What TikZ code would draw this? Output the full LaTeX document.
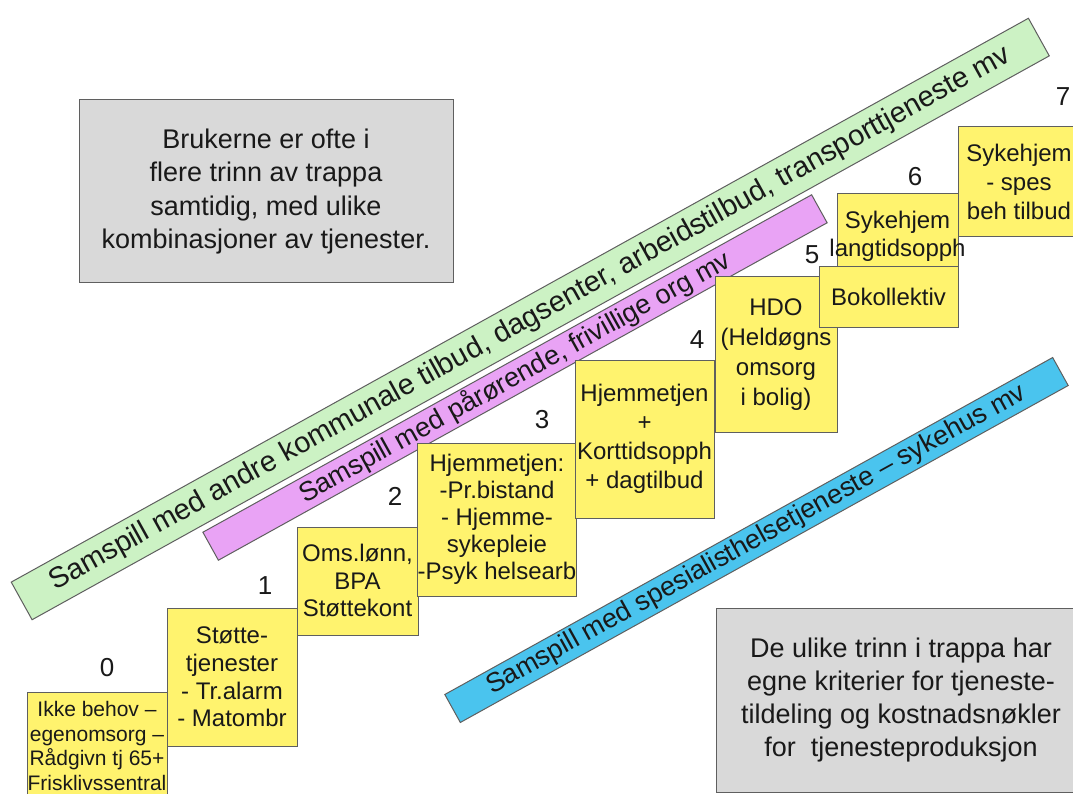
\documentclass[tikz,border=0pt]{standalone}
\usepackage{fontspec}
\setmainfont{Liberation Sans}
\definecolor{boxyellow}{RGB}{255,243,110}
\definecolor{boxgray}{RGB}{217,217,217}
\definecolor{edgegray}{RGB}{95,95,95}
\definecolor{bandgreen}{RGB}{204,242,196}
\definecolor{bandpurple}{RGB}{233,163,245}
\definecolor{bandblue}{RGB}{74,196,238}
\definecolor{txt}{RGB}{25,25,25}
\begin{document}
\begin{tikzpicture}[x=1pt,y=-1pt,
  ybox/.style={draw=edgegray, fill=boxyellow, line width=1pt, inner sep=0pt,
    align=center, text=txt, font=\fontsize{24}{27}\selectfont},
  ytext/.style={inner sep=0pt, align=center, text=txt},
  gbox/.style={draw=edgegray, fill=boxgray, line width=1pt, inner sep=0pt,
    align=center, text=txt, font=\fontsize{27}{33.3}\selectfont},
  band/.style={draw=edgegray, line width=1pt, inner sep=0pt, rotate=29,
    text=txt, font=\fontsize{27}{30}\selectfont},
  stepnum/.style={inner sep=0pt, text=txt, font=\fontsize{26}{28}\selectfont}]
\useasboundingbox (0,0) rectangle (1073,794);
\fill[white] (0,0) rectangle (1073,794);

% info boxes
\node[gbox, minimum width=374pt, minimum height=183pt] (info1) at (266,191.5)
  {Brukerne er ofte i\\flere trinn av trappa\\samtidig, med ulike\\kombinasjoner av tjenester.};
\node[gbox, minimum width=370pt, minimum height=184pt] (info2) at (901,700)
  {De ulike trinn i trappa har\\egne kriterier for tjeneste-\\tildeling og kostnadsnøkler\\for\ \ tjenesteproduksjon};

% bands
\node[band, fill=bandgreen, minimum width=1163pt, minimum height=43pt, font=\fontsize{29}{31}\selectfont] (green) at (530.25,319)
  {Samspill med andre kommunale tilbud, dagsenter, arbeidstilbud, transporttjeneste mv};
\node[band, fill=bandpurple, minimum width=696pt, minimum height=32pt] (purple) at (515,377.5)
  {Samspill med pårørende, frivillige org mv};
\node[band, fill=bandblue, minimum width=695pt, minimum height=32pt] (blue) at (756.5,540)
  {Samspill med spesialisthelsetjeneste – sykehus mv};

% steps
\node[ybox, minimum width=140pt, minimum height=108pt, font=\fontsize{21}{24.7}\selectfont] (b0) at (97,746)
  {Ikke behov –\\egenomsorg –\\Rådgivn tj 65+\\Frisklivssentral};
\node[ybox, minimum width=130pt, minimum height=138pt, font=\fontsize{24}{27.7}\selectfont] (b1) at (232,677)
  {Støtte-\\tjenester\\- Tr.alarm\\- Matombr};
\node[ybox, minimum width=121pt, minimum height=108pt, font=\fontsize{24}{27.5}\selectfont] (b2) at (357.5,581)
  {Oms.lønn,\\BPA\\Støttekont};
\node[ybox, minimum width=156pt, minimum height=153pt] (b3) at (497,519.5)
  {Hjemmetjen:\\-Pr.bistand\\- Hjemme-\\sykepleie\\-Psyk helsearb};
\node[ybox, minimum width=139pt, minimum height=158pt, font=\fontsize{24}{29}\selectfont] (b4) at (644.5,439)
  {Hjemmetjen\\+\\Korttidsopph\\+ dagtilbud};
\node[ybox, minimum width=122pt, minimum height=155pt, font=\fontsize{24}{30}\selectfont] (b5) at (776,354.5)
  {HDO\\(Heldøgns\\omsorg\\i bolig)};
\node[ybox, minimum width=121pt, minimum height=96pt] (b6) at (897.5,242) {};
\node[ytext, font=\fontsize{24}{28}\selectfont] (t6) at (897.5,236) {Sykehjem\\langtidsopph};
\node[ybox, minimum width=139pt, minimum height=60pt] (b7) at (888.5,297) {Bokollektiv};
\node[ybox, minimum width=122pt, minimum height=110pt, font=\fontsize{24}{29}\selectfont] (b8) at (1019,182)
  {Sykehjem\\- spes\\beh tilbud};

% step numbers
\node[stepnum] (n0) at (107,668) {0};
\node[stepnum] (n1) at (265,586) {1};
\node[stepnum] (n2) at (395,496) {2};
\node[stepnum] (n3) at (542,420) {3};
\node[stepnum] (n4) at (697,340) {4};
\node[stepnum] (n5) at (812,255) {5};
\node[stepnum] (n6) at (915,177) {6};
\node[stepnum] (n7) at (1063,97) {7};
\end{tikzpicture}
\end{document}
